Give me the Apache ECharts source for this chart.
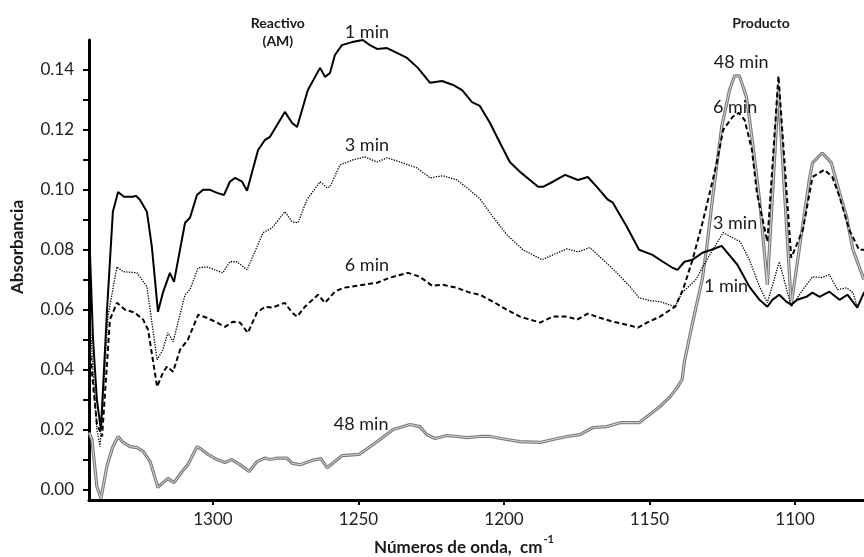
<!DOCTYPE html>
<html>
<head>
<meta charset="utf-8">
<script src="https://cdn.jsdelivr.net/npm/echarts@6/dist/echarts.min.js"></script>
<style>
  html, body { margin: 0; padding: 0; background: #ffffff; }
  #chart { width: 864px; height: 557px; }
</style>
</head>
<body>
<div id="chart"></div>
<script>
// Spectra: [wavenumber (cm-1), absorbance] per reaction time
const min1 = [
  [1342.6, 0.088], [1341.2, 0.05], [1339.9, 0.03], [1338.5, 0.020], [1336.4, 0.06],
  [1334.4, 0.0927], [1332.6, 0.0993], [1330.6, 0.0977], [1327.5, 0.0977], [1326.5, 0.098],
  [1325.1, 0.0967], [1322.7, 0.0927], [1321.0, 0.081], [1318.9, 0.0593], [1317.2, 0.0657],
  [1314.8, 0.0723], [1313.4, 0.0693], [1309.6, 0.089], [1307.9, 0.0907], [1305.5, 0.0983],
  [1303.4, 0.100], [1301.0, 0.100], [1298.6, 0.099], [1296.2, 0.0983], [1294.2, 0.1027],
  [1292.4, 0.104], [1290.0, 0.1027], [1288.3, 0.0997], [1284.5, 0.1133], [1282.1, 0.1167],
  [1280.4, 0.1177], [1275.3, 0.126], [1272.8, 0.1223], [1271.1, 0.121], [1267.4, 0.1333],
  [1263.2, 0.1407], [1261.5, 0.1377], [1259.8, 0.139], [1258.1, 0.145], [1255.7, 0.1483],
  [1252.2, 0.1493], [1248.5, 0.150], [1246.1, 0.1483], [1243.6, 0.147], [1240.2, 0.1473],
  [1236.8, 0.1457], [1233.3, 0.144], [1229.6, 0.1407], [1225.4, 0.1357], [1221.3, 0.1363],
  [1217.5, 0.135], [1214.4, 0.1333], [1211.0, 0.1293], [1208.3, 0.128], [1204.8, 0.1223],
  [1201.4, 0.1157], [1198.0, 0.1093], [1194.5, 0.106], [1191.1, 0.1033], [1188.3, 0.101],
  [1186.6, 0.101], [1183.2, 0.1027], [1179.0, 0.105], [1174.6, 0.1033], [1171.2, 0.1043],
  [1168.1, 0.101], [1164.3, 0.0967], [1162.6, 0.0957], [1157.8, 0.0877], [1153.6, 0.080],
  [1149.0, 0.0783], [1145.4, 0.076], [1142.1, 0.074], [1140.4, 0.0733], [1138.0, 0.076],
  [1135.2, 0.0767], [1131.8, 0.079], [1128.7, 0.080], [1125.2, 0.0813], [1123.5, 0.0793],
  [1119.8, 0.075], [1115.7, 0.0677], [1112.2, 0.0633], [1109.5, 0.061], [1107.8, 0.0633],
  [1105.4, 0.065], [1103.0, 0.0627], [1101.3, 0.0617], [1099.2, 0.0633], [1096.1, 0.0643],
  [1094.0, 0.0657], [1091.6, 0.0643], [1088.2, 0.066], [1084.7, 0.0633], [1082.0, 0.065],
  [1078.6, 0.0607], [1076.3, 0.0657]
];

const min3 = [
  [1342.6, 0.062], [1341.2, 0.04], [1339.9, 0.02], [1338.8, 0.0143], [1336.1, 0.0577],
  [1333.0, 0.0743], [1330.9, 0.0727], [1326.1, 0.0723], [1322.7, 0.0677], [1319.2, 0.0433],
  [1317.2, 0.0467], [1315.5, 0.0523], [1313.7, 0.0493], [1309.6, 0.065], [1307.9, 0.0667],
  [1305.1, 0.074], [1302.1, 0.0743], [1296.6, 0.0723], [1294.2, 0.076], [1291.7, 0.076],
  [1288.3, 0.0733], [1282.8, 0.0857], [1279.7, 0.0873], [1275.3, 0.0927], [1272.8, 0.0893],
  [1270.8, 0.089], [1267.7, 0.0967], [1263.2, 0.1027], [1260.8, 0.1007], [1259.8, 0.101],
  [1256.4, 0.1083], [1251.9, 0.110], [1247.8, 0.111], [1243.6, 0.1093], [1240.2, 0.1107],
  [1235.7, 0.1093], [1229.9, 0.1073], [1225.4, 0.104], [1221.0, 0.1047], [1216.2, 0.1033],
  [1212.7, 0.1007], [1208.3, 0.097], [1203.8, 0.091], [1199.0, 0.085], [1193.5, 0.080],
  [1186.9, 0.0767], [1183.2, 0.0783], [1178.4, 0.0803], [1174.6, 0.0793], [1170.5, 0.0807],
  [1166.0, 0.0767], [1161.2, 0.0723], [1156.7, 0.0677], [1153.6, 0.064], [1149.8, 0.063],
  [1146.4, 0.0627], [1141.2, 0.061], [1138.8, 0.0657], [1134.1, 0.070], [1130.3, 0.0767],
  [1124.7, 0.0857], [1118.9, 0.0827], [1115.7, 0.0767], [1112.2, 0.0677], [1109.5, 0.0623],
  [1105.4, 0.076], [1101.3, 0.061], [1097.3, 0.0667], [1094.0, 0.071], [1091.0, 0.0707],
  [1088.2, 0.0717], [1085.4, 0.0667], [1082.3, 0.0673], [1080.1, 0.0657], [1078.6, 0.061],
  [1076.3, 0.066]
];

const min6 = [
  [1342.6, 0.05], [1341.2, 0.035], [1339.9, 0.022], [1338.1, 0.0177], [1335.4, 0.0567],
  [1333.0, 0.0623], [1330.2, 0.060], [1326.8, 0.059], [1324.0, 0.0567], [1322.3, 0.0533],
  [1319.2, 0.0343], [1317.2, 0.039], [1315.8, 0.041], [1313.7, 0.0393], [1311.3, 0.0467],
  [1308.6, 0.050], [1305.1, 0.0583], [1302.1, 0.0573], [1298.6, 0.0557], [1295.9, 0.0543],
  [1293.1, 0.056], [1290.7, 0.0557], [1288.0, 0.0523], [1284.9, 0.059], [1282.1, 0.061],
  [1279.7, 0.0607], [1275.3, 0.0623], [1272.8, 0.059], [1271.1, 0.0577], [1268.4, 0.061],
  [1263.9, 0.065], [1261.5, 0.0623], [1258.1, 0.066], [1255.3, 0.0673], [1250.5, 0.068],
  [1243.6, 0.069], [1239.2, 0.0707], [1233.0, 0.0723], [1228.9, 0.071], [1224.7, 0.068],
  [1221.0, 0.0683], [1216.2, 0.0673], [1211.7, 0.0657], [1208.3, 0.065], [1203.8, 0.0627],
  [1199.0, 0.060], [1194.5, 0.0577], [1187.6, 0.0557], [1183.2, 0.0577], [1178.4, 0.0577],
  [1174.9, 0.0567], [1171.2, 0.0587], [1167.0, 0.0573], [1162.6, 0.056], [1157.8, 0.055],
  [1154.0, 0.054], [1150.9, 0.0557], [1146.4, 0.0577], [1141.2, 0.061], [1138.5, 0.0667],
  [1135.2, 0.0767], [1131.8, 0.089], [1129.3, 0.099], [1126.9, 0.109], [1124.7, 0.120],
  [1121.5, 0.1243], [1119.3, 0.1257], [1117.3, 0.1233], [1114.8, 0.1133], [1113.1, 0.099],
  [1109.5, 0.0827], [1105.7, 0.138], [1101.3, 0.0773], [1097.3, 0.0867], [1094.0, 0.1043],
  [1089.9, 0.1067], [1087.2, 0.1043], [1084.7, 0.0977], [1081.4, 0.0867], [1078.0, 0.080],
  [1076.3, 0.080]
];

const min48 = [
  [1342.6, 0.019], [1341.6, 0.0167], [1339.9, 0.001], [1338.5, -0.003], [1336.4, 0.008],
  [1334.4, 0.0143], [1332.6, 0.0177], [1330.9, 0.0157], [1328.5, 0.0143], [1326.1, 0.014],
  [1324.0, 0.0127], [1321.6, 0.0093], [1318.9, 0.0007], [1317.2, 0.0023], [1315.5, 0.0037],
  [1313.4, 0.0023], [1310.6, 0.006], [1308.6, 0.0083], [1305.5, 0.0143], [1303.8, 0.0133],
  [1301.7, 0.0117], [1298.6, 0.010], [1295.9, 0.009], [1293.5, 0.010], [1290.7, 0.0083],
  [1287.6, 0.006], [1284.9, 0.0093], [1282.1, 0.0105], [1280.4, 0.010], [1277.7, 0.0105],
  [1274.6, 0.0105], [1272.8, 0.0087], [1270.1, 0.0083], [1266.0, 0.0097], [1262.9, 0.0103],
  [1260.8, 0.0073], [1255.7, 0.0113], [1249.8, 0.0117], [1246.4, 0.014], [1242.6, 0.0167],
  [1238.1, 0.020], [1232.3, 0.0217], [1228.9, 0.021], [1226.5, 0.0183], [1223.7, 0.017],
  [1219.6, 0.018], [1216.2, 0.0177], [1212.7, 0.0173], [1208.3, 0.0177], [1204.8, 0.0177],
  [1199.0, 0.0167], [1194.5, 0.016], [1187.6, 0.0157], [1183.2, 0.0167], [1178.4, 0.0177],
  [1173.9, 0.0183], [1169.4, 0.0207], [1164.6, 0.021], [1160.1, 0.0223], [1153.6, 0.0223],
  [1146.4, 0.0277], [1142.9, 0.031], [1140.5, 0.034], [1138.8, 0.0367], [1138.0, 0.0427],
  [1135.2, 0.0557], [1131.9, 0.070], [1130.3, 0.081], [1128.4, 0.0967], [1125.2, 0.121],
  [1122.5, 0.1333], [1120.8, 0.138], [1119.1, 0.138], [1116.7, 0.131], [1114.7, 0.1167],
  [1112.2, 0.0967], [1109.5, 0.0683], [1105.7, 0.133], [1101.3, 0.0617], [1095.1, 0.1033],
  [1094.0, 0.109], [1090.6, 0.1123], [1087.5, 0.109], [1084.7, 0.099], [1082.3, 0.091],
  [1080.1, 0.080], [1076.3, 0.070]
];

// Axis ticks and labels
const xTickValues = [1300, 1250, 1200, 1150, 1100];
const yLabelValues = [0, 0.02, 0.04, 0.06, 0.08, 0.10, 0.12, 0.14];
const yTickValues = [0, 0.01, 0.02, 0.03, 0.04, 0.05, 0.06, 0.07, 0.08, 0.09, 0.10, 0.11, 0.12, 0.13, 0.14];

// Curve labels: [text, wavenumber, absorbance]
const curveLabels = [
  ['1 min', 1247.1, 0.1527],
  ['3 min', 1247.1, 0.1150],
  ['6 min', 1247.1, 0.0747],
  ['48 min', 1249.1, 0.0217],
  ['48 min', 1118.5, 0.1427],
  ['6 min', 1120.6, 0.1277],
  ['3 min', 1120.6, 0.0890],
  ['1 min', 1123.7, 0.0677]
];
// Region headers: [text, wavenumber, absorbance at top of text]
const regionLabels = [
  ['Reactivo\n(AM)', 1277.7, 0.1585],
  ['Producto', 1111.7, 0.1585]
];

const FONT = 'Lato, "Open Sans", sans-serif';
const chart = echarts.init(document.getElementById('chart'), null, { renderer: 'canvas' });

const X_MIN = 1076.3, X_MAX = 1342.6, Y_MIN = -0.0035, Y_MAX = 0.15;

function lineSeries(name, data, style, z) {
  return {
    name: name,
    type: 'line',
    data: data,
    showSymbol: false,
    symbol: 'none',
    smooth: false,
    animation: false,
    silent: true,
    z: z,
    lineStyle: style
  };
}

const option = {
  backgroundColor: '#ffffff',
  animation: false,
  grid: { left: 89, right: 0, top: 40, bottom: 57, containLabel: false },
  xAxis: {
    type: 'value',
    inverse: true,
    min: X_MIN,
    max: X_MAX,
    axisLine: { show: true, onZero: false, lineStyle: { color: '#000', width: 3 } },
    axisTick: { show: true, customValues: xTickValues, length: 5, lineStyle: { color: '#000', width: 2 } },
    axisLabel: {
      customValues: xTickValues,
      margin: 11,
      color: '#222',
      fontFamily: FONT,
      fontSize: 17,
      formatter: function (v) { return String(Math.round(v)); }
    },
    splitLine: { show: false }
  },
  yAxis: {
    type: 'value',
    min: Y_MIN,
    max: Y_MAX,
    axisLine: { show: true, onZero: false, lineStyle: { color: '#000', width: 3 } },
    axisTick: { show: true, customValues: yTickValues, length: 6, lineStyle: { color: '#000', width: 2 } },
    axisLabel: {
      customValues: yLabelValues,
      margin: 15,
      color: '#222',
      fontFamily: FONT,
      fontSize: 17,
      formatter: function (v) { return v.toFixed(2); }
    },
    splitLine: { show: false }
  },
  series: [
    lineSeries('48 min', min48, { color: '#7a7a7a', width: 3.2 }, 2),
    lineSeries('48 min inner', min48, { color: '#d8d8d8', width: 1 }, 3),
    lineSeries('6 min', min6, { color: '#000', width: 2, type: [5, 3] }, 4),
    lineSeries('3 min', min3, { color: '#000', width: 1.3, type: [1.3, 1.3] }, 5),
    lineSeries('1 min', min1, { color: '#000', width: 2 }, 6)
  ],
  graphic: []
};

chart.setOption(option);

// Text annotations placed at data coordinates
function placeLabels() {
  const g = [];
  curveLabels.forEach(function (l) {
    const p = chart.convertToPixel({ gridIndex: 0 }, [l[1], l[2]]);
    g.push({
      type: 'text', x: p[0], y: p[1], z: 10, silent: true,
      style: { text: l[0], fill: '#1a1a1a', font: '18px ' + FONT, textAlign: 'center', textVerticalAlign: 'middle' }
    });
  });
  regionLabels.forEach(function (l) {
    const p = chart.convertToPixel({ gridIndex: 0 }, [l[1], l[2]]);
    g.push({
      type: 'text', x: p[0], y: p[1], z: 10, silent: true,
      style: { text: l[0], fill: '#1a1a1a', font: 'bold 14px ' + FONT, textAlign: 'center', textVerticalAlign: 'top', lineHeight: 18 }
    });
  });
  // Axis titles
  g.push({
    type: 'text', x: 464, y: 545, z: 10, silent: true,
    style: {
      text: '{t|Números de onda,  cm}{s|-1}',
      textAlign: 'center', textVerticalAlign: 'middle',
      rich: {
        t: { font: 'bold 17px ' + FONT, fill: '#1a1a1a', lineHeight: 22, verticalAlign: 'bottom' },
        s: { font: 'bold 11px ' + FONT, fill: '#1a1a1a', lineHeight: 22, verticalAlign: 'top', padding: [0, 0, 0, 1] }
      }
    }
  });
  g.push({
    type: 'text', x: 18, y: 247, z: 10, silent: true, rotation: Math.PI / 2,
    style: { text: 'Absorbancia', fill: '#1a1a1a', font: 'bold 17px ' + FONT, textAlign: 'center', textVerticalAlign: 'middle' }
  });
  chart.setOption({ graphic: g });
}
placeLabels();
</script>
</body>
</html>
